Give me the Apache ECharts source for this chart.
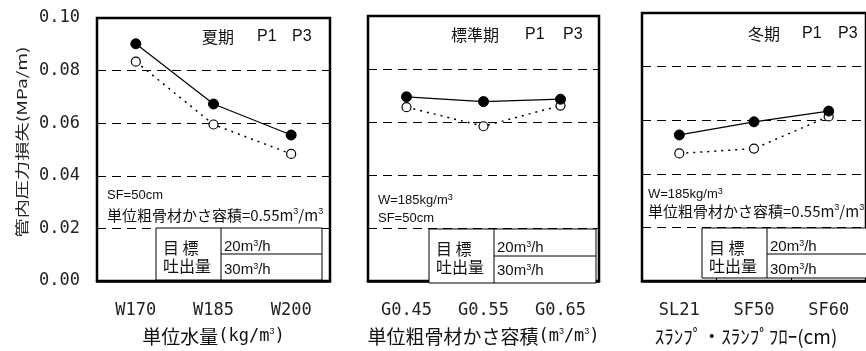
<!DOCTYPE html>
<html>
<head>
<meta charset="utf-8">
<script src="https://cdn.jsdelivr.net/npm/echarts@6/dist/echarts.min.js"></script>
<style>html,body{margin:0;padding:0;background:#fff;}#c{width:866px;height:351px;}</style>
</head>
<body>
<div id="c"></div>
<script>
// ---- data ----
const cats1 = ['W170', 'W185', 'W200'];
const cats2 = ['G0.45', 'G0.55', 'G0.65'];
const cats3 = ['SL21', 'SF50', 'SF60'];
const p1Summer = [0.0902, 0.0673, 0.0555];
const p3Summer = [0.0834, 0.0595, 0.0483];
const p1Std = [0.0695, 0.0677, 0.0686];
const p3Std = [0.0656, 0.0584, 0.0662];
const p1Winter = [0.0545, 0.0594, 0.0634];
const p3Winter = [0.0476, 0.0494, 0.0614];
const seasonNames = ['夏期', '標準期', '冬期'];
const seriesNames = ['P1', 'P3'];
const xNames = ['単位水量{j|(kg/m}{s|3}{j|)}', '単位粗骨材かさ容積{j|(m}{s|3}{j|/m}{s|3}{j|)}', 'ｽﾗﾝﾌﾟ・ｽﾗﾝﾌﾟﾌﾛｰ(cm)'];
const yName = '管内圧力損失(MPa/m)';
const rateLabels = ['20m{s|3}/h', '30m{s|3}/h'];
const tableHead = ['目 標', '吐出量'];

const CJK = '"Noto Sans CJK JP"';
const MONO = '"DejaVu Sans Mono"';
const SANS = '"Liberation Sans"';

const grids = [
  {left: 97, top: 18, width: 233, height: 269},
  {left: 368, top: 16, width: 231, height: 271},
  {left: 642, top: 13, width: 233, height: 274}
];
const cats = [cats1, cats2, cats3];
const p1 = [p1Summer, p1Std, p1Winter];
const p3 = [p3Summer, p3Std, p3Winter];

const supRich = {
  s: {fontSize: 9, verticalAlign: 'top', lineHeight: 10, fontFamily: SANS, fill: '#111', color: '#111'}
};

const panels = [
  {title: [[seasonNames[0], 202], [seriesNames[0], 257], [seriesNames[1], 292]], ty: 37,
   notes: [['SF=50cm', 107, 195, 13, SANS], ['単位粗骨材かさ容積=0.55m{s|3}/m{s|3}', 107, 215, 15, CJK]],
   table: {x: 156, y: 228, w: 166, h: 52, dx: 221, hy: 254}},
  {title: [[seasonNames[1], 451], [seriesNames[0], 525], [seriesNames[1], 563]], ty: 35,
   notes: [['W=185kg/m{s|3}', 378, 200, 13, SANS], ['SF=50cm', 378, 218, 13, SANS]],
   table: {x: 429, y: 229, w: 167, h: 54, dx: 494, hy: 256}},
  {title: [[seasonNames[2], 748], [seriesNames[0], 802], [seriesNames[1], 838]], ty: 34,
   notes: [['W=185kg/m{s|3}', 648, 194, 13, SANS], ['単位粗骨材かさ容積=0.55m{s|3}/m{s|3}', 648, 211, 15, CJK]],
   table: {x: 702, y: 228, w: 172, h: 50, dx: 767, hy: 254}}
];

function txt(text, x, y, size, family, extra) {
  return Object.assign({
    type: 'text', x: x, y: y, z: 20,
    style: {text: text, fontSize: size, fontFamily: family, fill: '#111',
            align: 'left', verticalAlign: 'middle', rich: supRich}
  }, extra || {});
}

const graphic = [];
panels.forEach(p => {
  p.title.forEach(t => {
    graphic.push(txt(t[0], t[1], p.ty, 16, /P/.test(t[0]) ? SANS : CJK));
  });
  p.notes.forEach(n => graphic.push(txt(n[0], n[1], n[2], n[3], n[4])));
  const tb = p.table;
  graphic.push({type: 'rect', z: 15, shape: {x: tb.x, y: tb.y, width: tb.w, height: tb.h},
    style: {fill: '#fff', stroke: '#000', lineWidth: 1}});
  graphic.push({type: 'line', z: 16, shape: {x1: tb.dx, y1: tb.y, x2: tb.dx, y2: tb.y + tb.h},
    style: {stroke: '#000', lineWidth: 1}});
  graphic.push({type: 'line', z: 16, shape: {x1: tb.dx, y1: tb.hy, x2: tb.x + tb.w, y2: tb.hy},
    style: {stroke: '#000', lineWidth: 1}});
  graphic.push(txt(tableHead[0], tb.x + 7, tb.y + 20, 16, CJK));
  graphic.push(txt(tableHead[1], tb.x + 7, tb.y + 38, 16, CJK));
  graphic.push(txt(rateLabels[0], tb.dx + 3, tb.y + 19, 15, SANS));
  graphic.push(txt(rateLabels[1], tb.dx + 3, tb.y + 42, 15, SANS));
});
graphic.push({type: 'text', x: 22, y: 142, rotation: Math.PI / 2, scaleX: 1.2, scaleY: 0.85, z: 20,
  style: {text: yName, fontSize: 16, fontFamily: CJK, fill: '#222', align: 'center', verticalAlign: 'middle'}});

const xAxis = grids.map((g, i) => ({
  type: 'category', gridIndex: i, data: cats[i], boundaryGap: true,
  axisLine: {show: true, lineStyle: {color: '#000', width: 2.5}},
  axisTick: {show: true, inside: true, length: 5, lineStyle: {color: '#000', width: 1}},
  axisLabel: {fontFamily: MONO, fontSize: 17, color: '#222', margin: 21},
  name: xNames[i], nameLocation: 'middle', nameGap: 46,
  nameTextStyle: {fontFamily: CJK, fontSize: 19, color: '#111',
    padding: i === 2 ? [0, 16, 0, 0] : 0,
    rich: {j: {fontFamily: MONO, fontSize: 17, color: '#111'},
           s: {fontFamily: SANS, fontSize: 9, verticalAlign: 'top', lineHeight: 10, color: '#111'}}}
}));

const yAxis = grids.map((g, i) => ({
  type: 'value', gridIndex: i, min: 0, max: 0.1, interval: 0.02,
  axisLine: {show: false}, axisTick: {show: false},
  axisLabel: {show: i === 0, fontFamily: MONO, fontSize: 17, color: '#222', margin: 17,
    formatter: v => v.toFixed(2)},
  splitLine: {show: true, lineStyle: {color: '#000', width: 1, type: [9, 6]}}
}));

const series = [];
grids.forEach((g, i) => {
  series.push({
    name: seriesNames[1], type: 'line', xAxisIndex: i, yAxisIndex: i, data: p3[i],
    symbol: 'circle', symbolSize: 9, z: 3,
    itemStyle: {color: '#fff', borderColor: '#000', borderWidth: 1.2},
    lineStyle: {color: '#000', width: 1.5, type: [2, 5]}
  });
  series.push({
    name: seriesNames[0], type: 'line', xAxisIndex: i, yAxisIndex: i, data: p1[i],
    symbol: 'circle', symbolSize: 10, z: 4,
    itemStyle: {color: '#000', borderColor: '#000', borderWidth: 1},
    lineStyle: {color: '#000', width: 1.2}
  });
});

const chart = echarts.init(document.getElementById('c'), null, {renderer: 'canvas'});
chart.setOption({
  animation: false,
  backgroundColor: '#fff',
  grid: grids.map(g => Object.assign({show: true, borderColor: '#000', borderWidth: 2.5,
    backgroundColor: 'transparent', containLabel: false}, g)),
  xAxis: xAxis,
  yAxis: yAxis,
  series: series,
  graphic: graphic
});
</script>
</body>
</html>
